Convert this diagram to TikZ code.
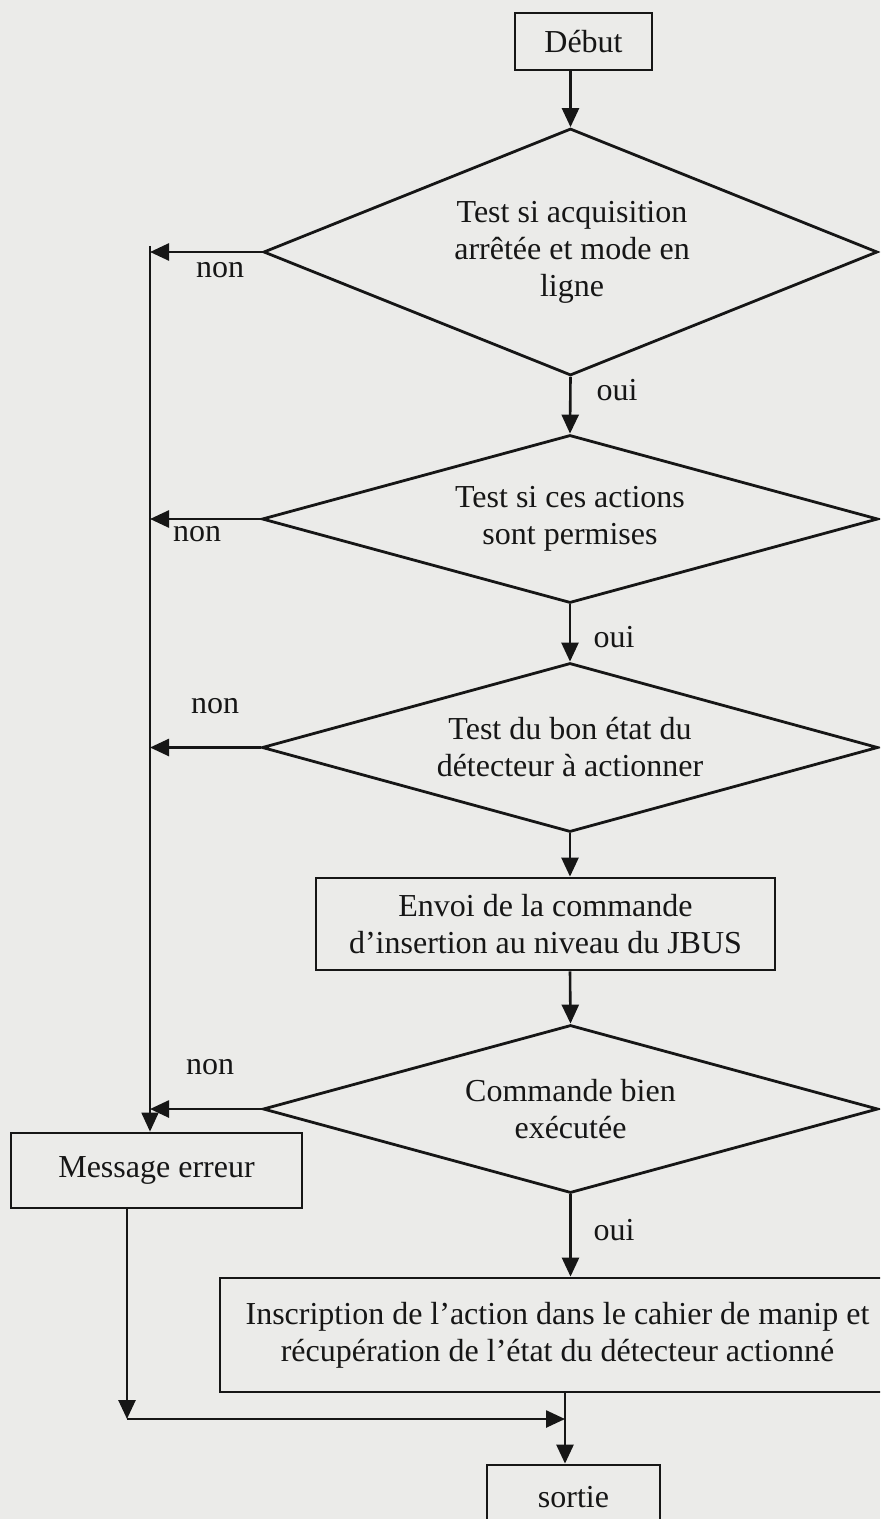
\documentclass[tikz,border=0pt]{standalone}
\usepackage{fontspec}
\setmainfont{Liberation Serif}
\usetikzlibrary{shapes.geometric,arrows.meta}
\definecolor{paper}{RGB}{235,235,233}
\definecolor{ink}{RGB}{22,22,22}
\begin{document}
\begin{tikzpicture}[x=0.5pt,y=-0.5pt,
  every node/.style={font=\fontsize{16}{18.5}\selectfont, text=ink},
  proc/.style={draw=ink, line width=1.4pt, rectangle, align=center, inner sep=0pt},
  dec/.style={draw=ink, line width=1.4pt, diamond, inner sep=0pt},
  dtext/.style={align=center, inner sep=0pt},
  arr/.style={draw=ink, line width=1.3pt, -{Triangle[length=9.5pt,width=8.5pt]}},
  thinarr/.style={draw=ink, line width=0.9pt, -{Triangle[length=9.5pt,width=8.5pt]}},
  lbl/.style={inner sep=0pt}]
\useasboundingbox (0,0) rectangle (880,1519);
\fill[paper] (0,0) rectangle (880,1519);
\clip (0,0) rectangle (880,1519);

% nodes
\node[proc, minimum width=68.5pt, minimum height=28.5pt] (debut) at (583.5,41.5) {Début};
\node[dec, minimum width=307pt, minimum height=123.5pt] (d1) at (570.5,252) {};
\node[dtext] (t1) at (572,252) {Test si acquisition\\arrêtée et mode en\\ligne};
\node[dec, minimum width=308pt, minimum height=84pt] (d2) at (570,519) {};
\node[dtext] (t2) at (d2) {Test si ces actions\\sont permises};
\node[dec, minimum width=308pt, minimum height=84.5pt] (d3) at (570,747.5) {};
\node[dtext] (t3) at (d3) {Test du bon état du\\détecteur à actionner};
\node[proc, minimum width=229.5pt, minimum height=46pt] (envoi) at (545.5,924) {Envoi de la commande\\d’insertion au niveau du JBUS};
\node[dec, minimum width=307.5pt, minimum height=84pt] (d4) at (570.5,1109) {};
\node[dtext] (t4) at (d4) {Commande bien\\exécutée};
\node[proc, minimum width=145.5pt, minimum height=37.5pt] (msg) at (156.5,1170.5) {Message erreur};
\node[proc, minimum width=337.5pt, minimum height=57pt] (insc) at (557.5,1335) {Inscription de l’action dans le cahier de manip et\\récupération de l’état du détecteur actionné};
\node[proc, minimum width=86.5pt, minimum height=32pt] (sortie) at (573.5,1497) {sortie};

% helper coordinates
\coordinate (L) at (150,246);
\coordinate (k) at (127,1419);
\coordinate (j) at (565,1419);

% main flow
\draw[arr] (debut.south -| d1.north) -- (d1.north);
\draw[arr] (d1.south) -- (d2.north);
\draw[arr] (d2.south) -- (d3.north);
\draw[arr] (d3.south) -- (d3.south |- envoi.north);
\draw[arr] (d3.south |- envoi.south) -- (d4.north);
\draw[arr] (d4.south) -- (d4.south |- insc.north);
\draw[arr] (insc.south -| j) -- (sortie.north -| j);

% "non" branches
\draw[thinarr] (L) -- (L |- msg.north);
\draw[arr] (d1.west) -- (d1.west -| L);
\draw[arr] (d2.west) -- (d2.west -| L);
\draw[arr] (d3.west) -- (d3.west -| L);
\draw[arr] (d4.west) -- (d4.west -| L);

% error path to exit
\draw[arr] (msg.south -| k) -- (k);
\draw[arr] (k) -- (j);

% labels
\node[lbl] (n1) at (220,270) {non};
\node[lbl] (n2) at (197,534) {non};
\node[lbl] (n3) at (215,706) {non};
\node[lbl] (n4) at (210,1067) {non};
\node[lbl] (o1) at (617,390) {oui};
\node[lbl] (o2) at (614,637) {oui};
\node[lbl] (o3) at (614,1230) {oui};
\end{tikzpicture}
\end{document}
